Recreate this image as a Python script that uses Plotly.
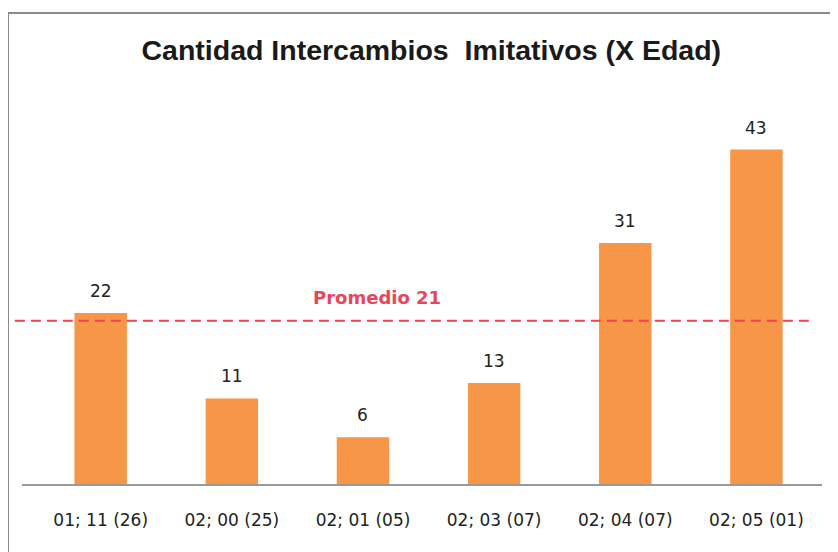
import plotly.graph_objects as go

edades = ['01; 11 (26)', '02; 00 (25)', '02; 01 (05)', '02; 03 (07)', '02; 04 (07)', '02; 05 (01)']
intercambios = [22, 11, 6, 13, 31, 43]
promedio = 21

fig = go.Figure()
fig.add_trace(go.Bar(
    x=edades, y=intercambios,
    marker=dict(color='#F79646', line=dict(width=0)),
    width=0.4,
))

# value labels above the bars
for e, v in zip(edades, intercambios):
    fig.add_annotation(x=e, y=v, yshift=22, text=str(v), showarrow=False,
                       font=dict(family='DejaVu Sans', size=17, color='#222222'))

# average line
fig.add_shape(type='line', xref='paper', yref='y', x0=-0.009, x1=0.991, y0=promedio, y1=promedio,
              line=dict(color='#F2424F', width=2, dash='10px,6px'))
fig.add_annotation(x=2.11, y=promedio, yshift=23, text='<b>Promedio ' + str(promedio) + '</b>', showarrow=False,
                   font=dict(family='DejaVu Sans', size=18, color='#E8465A'))

# chart frame (top + left)
fig.add_shape(type='line', xref='paper', yref='paper', x0=-0.0175, x1=1.05, y0=1.3457, y1=1.3457,
              line=dict(color='#8A8A8A', width=2))
fig.add_shape(type='line', xref='paper', yref='paper', x0=-0.0175, x1=-0.0175, y0=1.3457, y1=-0.25,
              line=dict(color='#8A8A8A', width=2))

fig.update_layout(
    title=dict(text='<b>Cantidad Intercambios  Imitativos (X Edad)</b>', x=0.51, xanchor='center',
               y=0.923, yanchor='middle',
               font=dict(family='Liberation Sans', size=28.5, color='#1A1A1A')),
    width=830, height=544,
    margin=dict(l=14, r=16, t=126, b=68),
    paper_bgcolor='white', plot_bgcolor='white',
    showlegend=False,
    xaxis=dict(range=[-0.6, 5.5], showline=True, linecolor='#999999', linewidth=2, ticks='',
               tickfont=dict(family='DejaVu Sans', size=17, color='#222222'), ticklabelstandoff=20,
               showgrid=False),
    yaxis=dict(range=[0, 45], visible=False, showgrid=False),
)

fig.write_html('out.html')
